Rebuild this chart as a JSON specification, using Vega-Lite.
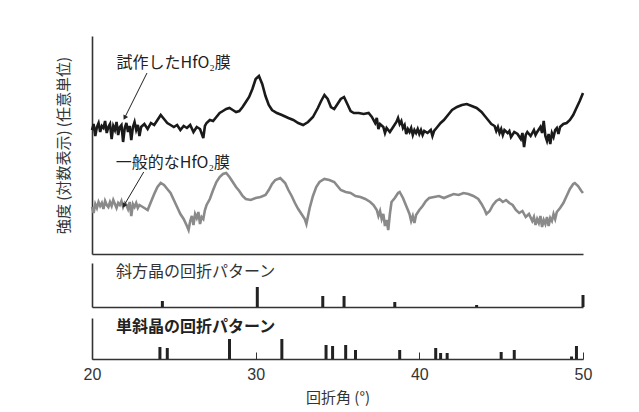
{
  "$schema": "https://vega.github.io/schema/vega-lite/v6.json",
  "background": "white",
  "padding": {"left": 56, "top": 36, "right": 10, "bottom": 5},
  "spacing": 9,
  "config": {
    "view": {"stroke": null},
    "axis": {"grid": false, "domainColor": "#333", "domainWidth": 1.6},
    "font": "Noto Sans CJK JP"
  },
  "datasets": {
    "black": [
      {"x":20.0,"y":124},{"x":20.1,"y":130},{"x":20.2,"y":118},{"x":20.3,"y":127},{"x":20.4,"y":131},{"x":20.5,"y":122},{"x":20.6,"y":128},{"x":20.7,"y":126},{"x":20.8,"y":133},{"x":20.9,"y":121},
      {"x":21.0,"y":127},{"x":21.1,"y":130},{"x":21.2,"y":115},{"x":21.3,"y":128},{"x":21.4,"y":124},{"x":21.5,"y":132},{"x":21.6,"y":119},{"x":21.7,"y":127},{"x":21.8,"y":129},{"x":21.9,"y":112},
      {"x":22.0,"y":126},{"x":22.1,"y":131},{"x":22.2,"y":122},{"x":22.3,"y":128},{"x":22.4,"y":114},{"x":22.5,"y":127},{"x":22.6,"y":132},{"x":22.7,"y":124},{"x":22.8,"y":129},{"x":22.9,"y":118},
      {"x":23.0,"y":127},{"x":23.2,"y":130},{"x":23.4,"y":125},{"x":23.6,"y":131},{"x":23.8,"y":129},{"x":24.0,"y":134},{"x":24.2,"y":139},{"x":24.4,"y":135},{"x":24.6,"y":131},{"x":24.8,"y":129},
      {"x":25.0,"y":127},{"x":25.2,"y":129},{"x":25.4,"y":124},{"x":25.6,"y":128},{"x":25.8,"y":126},{"x":26.0,"y":129},{"x":26.2,"y":122},{"x":26.4,"y":127},{"x":26.6,"y":125},{"x":26.8,"y":116},
      {"x":26.9,"y":128},{"x":27.0,"y":131},{"x":27.2,"y":134},{"x":27.4,"y":133},{"x":27.6,"y":137},{"x":27.8,"y":141},{"x":28.0,"y":143},{"x":28.2,"y":145},{"x":28.4,"y":146},{"x":28.6,"y":144},
      {"x":28.8,"y":142},{"x":29.0,"y":143},{"x":29.2,"y":147},{"x":29.4,"y":152},{"x":29.6,"y":157},{"x":29.8,"y":165},{"x":30.0,"y":175},{"x":30.2,"y":178},{"x":30.4,"y":170},{"x":30.6,"y":158},
      {"x":30.8,"y":149},{"x":31.0,"y":144},{"x":31.3,"y":141},{"x":31.6,"y":139},{"x":32.0,"y":136},{"x":32.3,"y":134},{"x":32.6,"y":131},{"x":32.9,"y":129},{"x":33.2,"y":132},{"x":33.5,"y":137},
      {"x":33.8,"y":146},{"x":34.0,"y":153},{"x":34.2,"y":159},{"x":34.4,"y":155},{"x":34.6,"y":147},{"x":34.8,"y":145},{"x":35.0,"y":150},{"x":35.2,"y":155},{"x":35.4,"y":157},{"x":35.6,"y":150},
      {"x":35.8,"y":143},{"x":36.0,"y":141},{"x":36.3,"y":141},{"x":36.6,"y":140},{"x":36.9,"y":141},{"x":37.1,"y":137},{"x":37.3,"y":131},{"x":37.4,"y":136},{"x":37.5,"y":125},{"x":37.6,"y":130},
      {"x":37.8,"y":127},{"x":37.9,"y":121},{"x":38.0,"y":126},{"x":38.2,"y":122},{"x":38.4,"y":127},{"x":38.6,"y":132},{"x":38.7,"y":136},{"x":38.8,"y":130},{"x":38.9,"y":133},{"x":39.0,"y":126},
      {"x":39.1,"y":129},{"x":39.2,"y":120},{"x":39.3,"y":125},{"x":39.4,"y":122},{"x":39.5,"y":126},{"x":39.6,"y":119},{"x":39.7,"y":124},{"x":39.8,"y":121},{"x":39.9,"y":125},{"x":40.0,"y":120},
      {"x":40.1,"y":124},{"x":40.2,"y":119},{"x":40.3,"y":123},{"x":40.5,"y":121},{"x":40.7,"y":124},{"x":40.8,"y":118},{"x":40.9,"y":123},{"x":41.1,"y":127},{"x":41.3,"y":131},{"x":41.5,"y":134},
      {"x":41.8,"y":140},{"x":42.0,"y":144},{"x":42.3,"y":147},{"x":42.6,"y":149},{"x":42.9,"y":150},{"x":43.2,"y":148},{"x":43.5,"y":146},{"x":43.8,"y":142},{"x":44.0,"y":138},{"x":44.2,"y":134},
      {"x":44.4,"y":130},{"x":44.6,"y":128},{"x":44.7,"y":123},{"x":44.8,"y":127},{"x":44.9,"y":121},{"x":45.0,"y":125},{"x":45.1,"y":119},{"x":45.2,"y":124},{"x":45.4,"y":121},{"x":45.5,"y":123},
      {"x":45.6,"y":117},{"x":45.8,"y":122},{"x":46.0,"y":120},{"x":46.2,"y":115},{"x":46.3,"y":121},{"x":46.4,"y":107},{"x":46.5,"y":119},{"x":46.6,"y":122},{"x":46.8,"y":118},{"x":47.0,"y":124},
      {"x":47.1,"y":119},{"x":47.2,"y":122},{"x":47.4,"y":127},{"x":47.5,"y":121},{"x":47.6,"y":133},{"x":47.7,"y":118},{"x":47.8,"y":113},{"x":47.9,"y":120},{"x":48.0,"y":110},{"x":48.1,"y":121},
      {"x":48.2,"y":117},{"x":48.3,"y":124},{"x":48.4,"y":126},{"x":48.5,"y":120},{"x":48.6,"y":127},{"x":48.8,"y":130},{"x":49.0,"y":131},{"x":49.2,"y":134},{"x":49.4,"y":139},{"x":49.6,"y":146},
      {"x":49.8,"y":153},{"x":50.0,"y":161}
    ],
    "gray": [
      {"x":20.0,"y":47},{"x":20.1,"y":41},{"x":20.2,"y":50},{"x":20.3,"y":46},{"x":20.4,"y":52},{"x":20.5,"y":48},{"x":20.6,"y":51},{"x":20.7,"y":45},{"x":20.8,"y":53},{"x":20.9,"y":49},
      {"x":21.0,"y":47},{"x":21.1,"y":52},{"x":21.2,"y":48},{"x":21.3,"y":54},{"x":21.4,"y":50},{"x":21.5,"y":46},{"x":21.6,"y":51},{"x":21.7,"y":49},{"x":21.8,"y":53},{"x":21.9,"y":47},
      {"x":22.0,"y":51},{"x":22.1,"y":49},{"x":22.2,"y":45},{"x":22.3,"y":52},{"x":22.4,"y":38},{"x":22.5,"y":50},{"x":22.6,"y":47},{"x":22.7,"y":51},{"x":22.8,"y":46},{"x":22.9,"y":49},
      {"x":23.0,"y":48},{"x":23.2,"y":46},{"x":23.4,"y":44},{"x":23.6,"y":52},{"x":23.8,"y":60},{"x":24.0,"y":67},{"x":24.2,"y":71},{"x":24.4,"y":69},{"x":24.6,"y":65},{"x":24.8,"y":61},
      {"x":25.0,"y":54},{"x":25.2,"y":47},{"x":25.4,"y":40},{"x":25.6,"y":35},{"x":25.8,"y":28},{"x":25.9,"y":24},{"x":26.0,"y":33},{"x":26.1,"y":38},{"x":26.2,"y":29},{"x":26.3,"y":40},
      {"x":26.4,"y":36},{"x":26.5,"y":42},{"x":26.6,"y":30},{"x":26.7,"y":37},{"x":26.8,"y":35},{"x":26.9,"y":44},{"x":27.0,"y":49},{"x":27.2,"y":55},{"x":27.4,"y":64},{"x":27.6,"y":72},
      {"x":27.8,"y":77},{"x":28.0,"y":80},{"x":28.2,"y":81},{"x":28.4,"y":77},{"x":28.6,"y":72},{"x":28.8,"y":67},{"x":29.0,"y":63},{"x":29.2,"y":58},{"x":29.4,"y":55},{"x":29.7,"y":54},
      {"x":30.0,"y":56},{"x":30.3,"y":57},{"x":30.6,"y":59},{"x":30.8,"y":64},{"x":31.0,"y":70},{"x":31.2,"y":74},{"x":31.5,"y":76},{"x":31.8,"y":71},{"x":32.0,"y":64},{"x":32.2,"y":58},
      {"x":32.4,"y":51},{"x":32.6,"y":45},{"x":32.8,"y":40},{"x":33.0,"y":35},{"x":33.1,"y":30},{"x":33.2,"y":38},{"x":33.3,"y":46},{"x":33.5,"y":58},{"x":33.7,"y":67},{"x":33.9,"y":72},
      {"x":34.2,"y":75},{"x":34.5,"y":74},{"x":34.8,"y":72},{"x":35.0,"y":68},{"x":35.2,"y":64},{"x":35.5,"y":62},{"x":35.8,"y":61},{"x":36.1,"y":58},{"x":36.4,"y":57},{"x":36.7,"y":55},
      {"x":37.0,"y":52},{"x":37.2,"y":49},{"x":37.4,"y":44},{"x":37.5,"y":38},{"x":37.6,"y":43},{"x":37.7,"y":35},{"x":37.8,"y":40},{"x":37.9,"y":28},{"x":38.0,"y":34},{"x":38.1,"y":24},
      {"x":38.2,"y":40},{"x":38.3,"y":52},{"x":38.5,"y":56},{"x":38.7,"y":61},{"x":38.8,"y":62},{"x":39.0,"y":56},{"x":39.2,"y":48},{"x":39.4,"y":40},{"x":39.5,"y":33},{"x":39.6,"y":38},
      {"x":39.7,"y":31},{"x":39.8,"y":39},{"x":40.0,"y":44},{"x":40.2,"y":48},{"x":40.4,"y":53},{"x":40.6,"y":56},{"x":40.9,"y":57},{"x":41.2,"y":58},{"x":41.5,"y":56},{"x":41.8,"y":58},
      {"x":42.1,"y":60},{"x":42.4,"y":59},{"x":42.7,"y":61},{"x":43.0,"y":60},{"x":43.3,"y":58},{"x":43.6,"y":55},{"x":43.8,"y":50},{"x":44.0,"y":44},{"x":44.1,"y":40},{"x":44.3,"y":43},
      {"x":44.5,"y":49},{"x":44.7,"y":53},{"x":44.9,"y":55},{"x":45.1,"y":52},{"x":45.3,"y":54},{"x":45.5,"y":51},{"x":45.7,"y":49},{"x":45.9,"y":44},{"x":46.1,"y":41},{"x":46.3,"y":43},
      {"x":46.5,"y":37},{"x":46.7,"y":40},{"x":46.9,"y":33},{"x":47.0,"y":37},{"x":47.1,"y":29},{"x":47.2,"y":35},{"x":47.3,"y":31},{"x":47.4,"y":38},{"x":47.5,"y":27},{"x":47.6,"y":34},
      {"x":47.7,"y":30},{"x":47.8,"y":37},{"x":47.9,"y":28},{"x":48.0,"y":36},{"x":48.1,"y":33},{"x":48.2,"y":40},{"x":48.3,"y":35},{"x":48.4,"y":42},{"x":48.6,"y":46},{"x":48.8,"y":51},
      {"x":49.0,"y":58},{"x":49.2,"y":65},{"x":49.4,"y":70},{"x":49.5,"y":71},{"x":49.7,"y":68},{"x":49.9,"y":63},{"x":50.0,"y":61}
    ],
    "notes": [
      {"x":21.5,"y":191,"label":"試作したHfO₂膜"},
      {"x":21.45,"y":91,"label":"一般的なHfO₂膜"}
    ],
    "arrows": [
      {"x":23.36,"y":181,"x2":22.02,"y2":137},
      {"x":23.16,"y":82,"x2":21.97,"y2":49}
    ],
    "ortho": [
      {"x":24.3,"h":6},{"x":30.1,"h":20},{"x":34.1,"h":11},{"x":35.4,"h":11},{"x":38.5,"h":5},{"x":43.5,"h":2},{"x":50.0,"h":12}
    ],
    "mono": [
      {"x":24.15,"h":12},{"x":24.6,"h":11},{"x":28.4,"h":20},{"x":31.6,"h":20},{"x":34.3,"h":14},{"x":34.7,"h":13},{"x":35.5,"h":14},{"x":36.1,"h":9},
      {"x":38.8,"h":9},{"x":41.0,"h":11},{"x":41.3,"h":6},{"x":41.7,"h":6},{"x":45.0,"h":7},{"x":45.8,"h":9},{"x":49.3,"h":2.5},{"x":49.6,"h":13}
    ]
  },
  "vconcat": [
    {
      "width": 491,
      "height": 218,
      "encoding": {
        "x": {"field": "x", "type": "quantitative", "scale": {"domain": [20, 50], "nice": false, "zero": false},
              "axis": {"labels": false, "ticks": false, "title": null}},
        "y": {"field": "y", "type": "quantitative", "scale": {"domain": [0, 218], "nice": false},
              "axis": {"labels": false, "ticks": false, "title": "強度 (対数表示) (任意単位)", "titleFont": "Noto Sans CJK JP",
                       "titleFontSize": 15, "titleFontWeight": "normal", "titleColor": "#333", "titlePadding": 21}}
      },
      "layer": [
        {"data": {"name": "gray"}, "mark": {"type": "line", "color": "#8a8a8a", "strokeWidth": 2.6}},
        {"data": {"name": "black"}, "mark": {"type": "line", "color": "#1a1a1a", "strokeWidth": 2.6}},
        {"data": {"name": "notes"}, "mark": {"type": "text", "align": "left", "baseline": "middle", "fontSize": 16, "color": "#222", "font": "Noto Sans CJK JP"},
         "encoding": {"text": {"field": "label"}}},
        {"data": {"name": "arrows"}, "mark": {"type": "rule", "color": "#222", "strokeWidth": 1},
         "encoding": {"x2": {"field": "x2"}, "y2": {"field": "y2"}}},
        {"data": {"name": "arrows"}, "mark": {"type": "point", "shape": "triangle", "filled": true, "size": 28, "angle": 208, "color": "#222", "opacity": 1},
         "encoding": {"x": {"field": "x2", "type": "quantitative"}, "y": {"field": "y2", "type": "quantitative"}}}
      ]
    },
    {
      "width": 491,
      "height": 44,
      "layer": [
        {"data": {"name": "ortho"}, "mark": {"type": "rule", "strokeWidth": 3, "color": "#222"},
         "encoding": {
           "x": {"field": "x", "type": "quantitative", "scale": {"domain": [20, 50], "nice": false, "zero": false},
                 "axis": {"labels": false, "ticks": false, "title": null}},
           "y": {"field": "h", "type": "quantitative", "scale": {"domain": [0, 44], "nice": false},
                 "axis": {"labels": false, "ticks": false, "title": null}},
           "y2": {"datum": 0}
         }},
        {"data": {"values": [{"x": 21.47, "h": 35, "label": "斜方晶の回折パターン"}]},
         "mark": {"type": "text", "align": "left", "baseline": "middle", "fontSize": 16, "color": "#333", "font": "Noto Sans CJK JP"},
         "encoding": {"x": {"field": "x", "type": "quantitative"}, "y": {"field": "h", "type": "quantitative"}, "text": {"field": "label"}}}
      ]
    },
    {
      "width": 491,
      "height": 41,
      "layer": [
        {"data": {"name": "mono"}, "mark": {"type": "rule", "strokeWidth": 3, "color": "#222"},
         "encoding": {
           "x": {"field": "x", "type": "quantitative", "scale": {"domain": [20, 50], "nice": false, "zero": false},
                 "axis": {"values": [20, 30, 40, 50], "tickSize": -7, "tickColor": "#333", "tickWidth": 1,
                          "labelFont": "Liberation Sans", "labelFontSize": 16, "labelColor": "#333", "labelPadding": 14,
                          "labelFlush": false, "labelOverlap": false,
                          "title": "回折角 (°)", "titleFont": "Noto Sans CJK JP", "titleFontSize": 15, "titleFontWeight": "normal",
                          "titleColor": "#333", "titlePadding": 8}},
           "y": {"field": "h", "type": "quantitative", "scale": {"domain": [0, 41], "nice": false},
                 "axis": {"labels": false, "ticks": false, "title": null}},
           "y2": {"datum": 0}
         }},
        {"data": {"values": [{"x": 21.47, "h": 31.7, "label": "単斜晶の回折パターン"}]},
         "mark": {"type": "text", "align": "left", "baseline": "middle", "fontSize": 16, "fontWeight": "bold", "color": "#222", "font": "Noto Sans CJK JP"},
         "encoding": {"x": {"field": "x", "type": "quantitative"}, "y": {"field": "h", "type": "quantitative"}, "text": {"field": "label"}}}
      ]
    }
  ]
}
